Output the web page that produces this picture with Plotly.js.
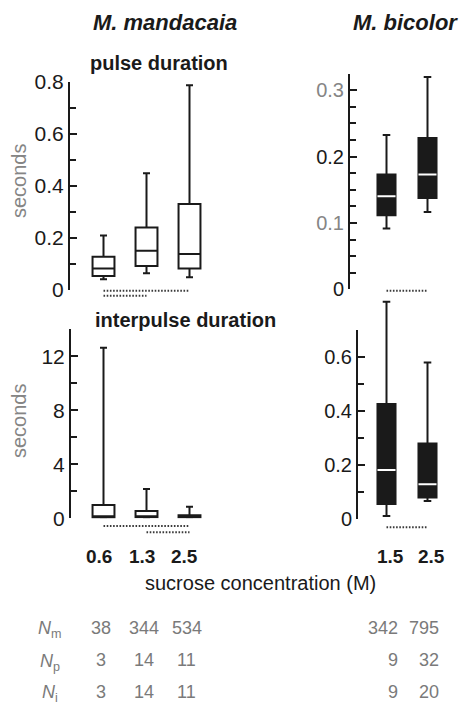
<!DOCTYPE html>
<html><head><meta charset="utf-8">
<script src="https://cdn.plot.ly/plotly-3.0.1.min.js"></script>
<style>html,body{margin:0;padding:0;background:#fff}#chart{width:459px;height:704px}</style>
</head><body><div id="chart"></div>
<script>
const W = 459, H = 704;
// categories (sucrose concentration, M)
const catsM = ['0.6', '1.3', '2.5'];
const catsB = ['1.5', '2.5'];
// pulse duration (s), M. mandacaia
const pulseM_low  = [0.041, 0.064, 0.049];
const pulseM_q1   = [0.054, 0.092, 0.083];
const pulseM_med  = [0.083, 0.151, 0.138];
const pulseM_q3   = [0.128, 0.240, 0.331];
const pulseM_high = [0.210, 0.449, 0.788];
// pulse duration (s), M. bicolor
const pulseB_low  = [0.0915, 0.1165];
const pulseB_q1   = [0.1115, 0.1375];
const pulseB_med  = [0.140, 0.173];
const pulseB_q3   = [0.173, 0.228];
const pulseB_high = [0.2325, 0.320];
// interpulse duration (s), M. mandacaia
const interM_low  = [0.02, 0.05, 0.04];
const interM_q1   = [0.05, 0.07, 0.06];
const interM_med  = [0.15, 0.15, 0.12];
const interM_q3   = [0.98, 0.55, 0.22];
const interM_high = [12.64, 2.17, 0.86];
// interpulse duration (s), M. bicolor
const interB_low  = [0.012, 0.068];
const interB_q1   = [0.057, 0.081];
const interB_med  = [0.183, 0.130];
const interB_q3   = [0.427, 0.281];
const interB_high = [0.806, 0.581];
// significance bars (pairs of categories)
const sigPulseM = [['0.6', '2.5'], ['0.6', '1.3']];
const sigInterM = [['0.6', '2.5'], ['1.3', '2.5']];
const sigPulseB = [['1.5', '2.5']];
const sigInterB = [['1.5', '2.5']];
// sample sizes
const rowLabels = ['m', 'p', 'i'];
const nM = [[38, 344, 534], [3, 14, 11], [3, 14, 11]];
const nB = [[342, 795], [9, 32], [9, 20]];

const FONT = 'Liberation Sans, Arial, Helvetica, sans-serif';
const DARK = '#1a1a1a';
const GREY = '#858585';

const xd = (a, b) => [a / W, b / W];
const yd = (top, bottom) => [1 - bottom / H, 1 - top / H];
const catRange = (d0, d1, c0, sp) => { const r0 = -(c0 - d0) / sp; return [r0, r0 + (d1 - d0) / sp]; };

function boxTrace(cats, lo, q1, med, q3, hi, xa, ya, fill, line, width, ww) {
  return {type: 'box', x: cats, lowerfence: lo, q1: q1, median: med, q3: q3, upperfence: hi,
    xaxis: xa, yaxis: ya, fillcolor: fill, line: {color: line, width: 2}, width: width,
    whiskerwidth: ww, boxpoints: false, hoverinfo: 'skip', showlegend: false};
}
function sigTraces(pairs, xa, ya) {
  return pairs.map((p, i) => ({type: 'scatter', mode: 'lines', x: p, y: [i, i], xaxis: xa, yaxis: ya,
    line: {color: '#3a3a3a', width: 2, dash: '1.6px,1.6px'}, hoverinfo: 'skip', showlegend: false}));
}

const data = [
  boxTrace(catsM, pulseM_low, pulseM_q1, pulseM_med, pulseM_q3, pulseM_high, 'x', 'y', 'white', DARK, 0.51, 0.32),
  boxTrace(catsB, pulseB_low, pulseB_q1, pulseB_med, pulseB_q3, pulseB_high, 'x2', 'y2', DARK, DARK, 0.44, 0.42),
  boxTrace(catsB, pulseB_med, pulseB_med, pulseB_med, pulseB_med, pulseB_med, 'x2', 'y2', 'white', 'white', 0.44, 0.42),
  boxTrace(catsM, interM_low, interM_q1, interM_med, interM_q3, interM_high, 'x3', 'y3', 'white', DARK, 0.51, 0.32),
  {type: 'scatter', mode: 'lines', x: [], y: [], xaxis: 'x4', yaxis: 'y4', hoverinfo: 'skip', showlegend: false},
  boxTrace(catsB, interB_low, interB_q1, interB_med, interB_q3, interB_high, 'x4', 'y9', DARK, DARK, 0.44, 0.42),
  boxTrace(catsB, interB_med, interB_med, interB_med, interB_med, interB_med, 'x4', 'y9', 'white', 'white', 0.44, 0.42),
  ...sigTraces(sigPulseM, 'x', 'y5'),
  ...sigTraces(sigPulseB, 'x2', 'y6'),
  ...sigTraces(sigInterM, 'x3', 'y7'),
  ...sigTraces(sigInterB, 'x4', 'y8')
];

const hidX = (dom, rng, anchor, cats) => ({domain: dom, range: rng, anchor: anchor, type: 'category',
  categoryorder: 'array', categoryarray: cats, showline: false, showticklabels: false, ticks: '',
  showgrid: false, zeroline: false, fixedrange: true});
const visY = (dom, rng, anchor, fs, extra) => Object.assign({domain: dom, range: rng, anchor: anchor,
  showline: true, linewidth: 2, linecolor: DARK, ticks: 'inside', ticklen: 7, tickwidth: 2, tickcolor: DARK,
  tickfont: {family: FONT, size: fs, color: DARK}, showgrid: false, zeroline: false, fixedrange: true}, extra);
const hidY = (dom, rng, anchor) => ({domain: dom, range: rng, anchor: anchor, visible: false, fixedrange: true});

const brTop = 295, brZero = 519.3, brAxisTop = 330.3;
const brScale = 0.7 / (brZero - brAxisTop);

const ttColor = (v, c) => '<span style="color:' + c + '">' + v + '</span>';

const layout = {
  width: W, height: H, margin: {l: 0, r: 0, t: 0, b: 0},
  paper_bgcolor: 'white', plot_bgcolor: 'rgba(0,0,0,0)', showlegend: false,
  font: {family: FONT, color: DARK},
  xaxis:  hidX(xd(70, 215), catRange(70, 215, 103.5, 43), 'y', catsM),
  xaxis2: hidX(xd(350, 455), catRange(350, 455, 386.5, 41), 'y2', catsB),
  xaxis3: hidX(xd(71, 215), catRange(71, 215, 103.5, 43), 'y3', catsM),
  xaxis4: hidX(xd(358, 455), catRange(358, 455, 386.5, 41), 'y4', catsB),
  yaxis: visY(yd(82, 290), [0, 0.8001], 'x', 21, {dtick: 0.2,
    minor: {dtick: 0.1, ticks: 'inside', ticklen: 6, tickwidth: 2, tickcolor: DARK}}),
  yaxis2: visY(yd(73.5, 289.3), [0, 0.3251], 'x2', 20, {tickmode: 'array', tickvals: [0, 0.1, 0.2, 0.3],
    ticktext: ['0', ttColor('0.1', GREY), '0.2', ttColor('0.3', GREY)],
    minor: {tickmode: 'linear', tick0: 0, dtick: 0.025, ticks: 'inside', ticklen: 6, tickwidth: 2, tickcolor: DARK}}),
  yaxis3: visY(yd(329.3, 518.3), [0, 14.001], 'x3', 21, {dtick: 4,
    minor: {dtick: 2, ticks: 'inside', ticklen: 6, tickwidth: 2, tickcolor: DARK}}),
  yaxis4: visY(yd(brAxisTop, brZero), [0, 0.7001], 'x4', 20, {dtick: 0.2,
    minor: {dtick: 0.1, ticks: 'inside', ticklen: 6, tickwidth: 2, tickcolor: DARK}}),
  yaxis9: hidY(yd(brTop, brZero), [0, (brZero - brTop) * brScale], 'x4'),
  yaxis5: hidY(yd(288.2, 298.2), [1.5, -0.5], 'x'),
  yaxis6: hidY(yd(288.2, 298.2), [1.5, -0.5], 'x2'),
  yaxis7: hidY(yd(522.85, 535.45), [1.5, -0.5], 'x3'),
  yaxis8: hidY(yd(524.8, 534.8), [1.5, -0.5], 'x4'),
  annotations: []
};

const A = layout.annotations;
const pAnn = (text, x, y, size, color, extra) => A.push(Object.assign({text: text, xref: 'paper', yref: 'paper',
  x: x / W, y: 1 - y / H, xanchor: 'center', yanchor: 'middle', showarrow: false,
  font: {family: FONT, size: size, color: color}}, extra || {}));

pAnn('<b><i>M. mandacaia</i></b>', 165, 22, 22, DARK);
pAnn('<b><i>M. bicolor</i></b>', 405, 22, 22, DARK);
pAnn('<b>pulse duration</b>', 159, 63, 20, DARK);
pAnn('<b>interpulse duration</b>', 185, 320, 20, DARK);
pAnn('seconds', 19, 181, 20, GREY, {textangle: -90});
pAnn('seconds', 19, 421, 20, GREY, {textangle: -90});
pAnn('sucrose concentration (M)', 260, 582.5, 20, DARK);

// category annotations placed by category index on the categorical axis
const catAnn = (text, idx, xa, y, size, color, xanchor, xshift) => A.push({text: text, xref: xa, yref: 'paper',
  x: idx, y: 1 - y / H, xanchor: xanchor, yanchor: 'middle', xshift: xshift, showarrow: false,
  font: {family: FONT, size: size, color: color}});

catsM.forEach((c, j) => catAnn('<b>' + c + '</b>', j, 'x3', 556.5, 19, DARK, 'center', -5));
catsB.forEach((c, j) => catAnn('<b>' + c + '</b>', j, 'x4', 556.5, 19, DARK, 'center', 4));

const rowY = [627.7, 660, 691.7];
rowLabels.forEach((r, i) => {
  pAnn('<i>N</i><sub>' + r + '</sub>', 50, rowY[i] + 2, 18, '#7a7a7a');
  catsM.forEach((c, j) => catAnn(String(nM[i][j]), j, 'x3', rowY[i], 18, '#7a7a7a', 'center', -3));
  catsB.forEach((c, j) => catAnn(String(nB[i][j]), j, 'x4', rowY[i], 18, '#7a7a7a', 'right', 13));
});

Plotly.newPlot('chart', data, layout, {staticPlot: true, displayModeBar: false});
</script></body></html>
